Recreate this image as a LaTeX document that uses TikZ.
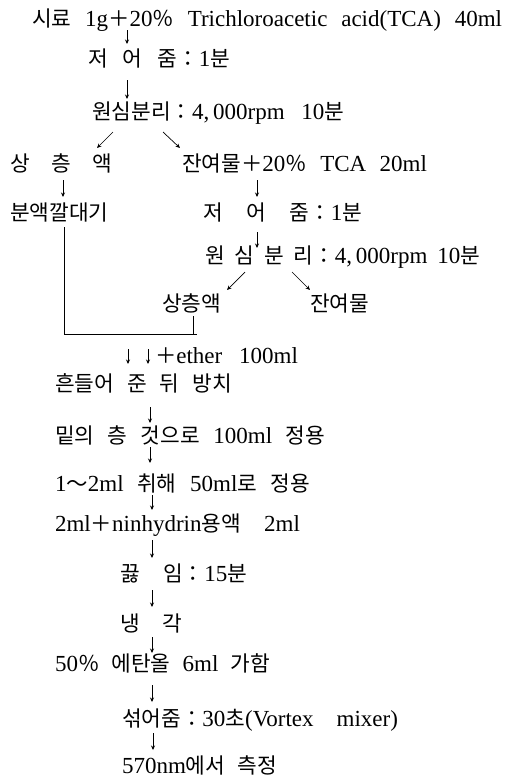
\documentclass[tikz,border=0pt]{standalone}
\usepackage{fontspec}
\setmainfont{Liberation Serif}
\newfontfamily\kr[Scale=0.93]{Noto Sans CJK KR}
\newcommand\K[1]{{\kr #1}}
\usetikzlibrary{arrows.meta}
\tikzset{
  txt/.style={anchor=base west,inner sep=0pt,outer sep=0pt,font=\fontsize{23}{26}\selectfont},
  arr/.style={line width=0.7pt,-{Stealth[length=4.5pt,width=4pt]}},
  ln/.style={line width=0.7pt}
}
\newcommand\W[2]{\makebox[#1pt][s]{#2}}
\begin{document}
\begin{tikzpicture}[x=1pt,y=-1pt]
\useasboundingbox[fill=white] (0,0) rectangle (504,779);
% texts
\node[txt] (t1) at (32,26) {\W{470}{\K{시료} 1g\K{＋}20\K{％} Trichloroacetic acid(TCA) 40ml}};
\node[txt] (t2) at (88,66) {\W{142}{\K{저} \K{어} \K{줌：}1\K{분}}};
\node[txt] (t3) at (92,119) {\W{252}{\K{원심분리：}4,\,000rpm 10\K{분}}};
\node[txt] (t4) at (10,171) {\W{102}{\K{상} \K{층} \K{액}}};
\node[txt] (t5) at (182,171) {\W{245}{\K{잔여물＋}20\K{％} TCA 20ml}};
\node[txt] (t6) at (10,220) {\K{분액깔대기}};
\node[txt] (t7) at (203,220) {\W{159}{\K{저} \K{어} \K{줌：}1\K{분}}};
\node[txt] (t8) at (205,263) {\W{275}{\K{원} \K{심} \K{분} \K{리：}4,\,000rpm 10\K{분}}};
\node[txt] (t9) at (162,311) {\K{상층액}};
\node[txt] (t10) at (310,311) {\K{잔여물}};
\node[txt] (t11) at (155,363) {\W{143}{\K{＋}ether 100ml}};
\node[txt] (t12) at (55,391) {\W{177}{\K{흔들어} \K{준} \K{뒤} \K{방치}}};
\node[txt] (t13) at (55,443) {\W{270}{\K{밑의} \K{층} \K{것으로} 100ml \K{정용}}};
\node[txt] (t14) at (55,491) {\W{255}{1\K{～}2ml \K{취해} 50ml\K{로} \K{정용}}};
\node[txt] (t15) at (55,531) {\W{245}{2ml\K{＋}ninhydrin\K{용액} 2ml}};
\node[txt] (t16) at (120,581) {\W{127}{\K{끓} \K{임：}15\K{분}}};
\node[txt] (t17) at (120,631) {\W{62}{\K{냉} \K{각}}};
\node[txt] (t18) at (55,671) {\W{215}{50\K{％} \K{에탄올} 6ml \K{가함}}};
\node[txt] (t19) at (122,726) {\W{276}{\K{섞어줌：}30\K{초}(Vortex mixer)}};
\node[txt] (t20) at (122,773) {\W{155}{570nm\K{에서} \K{측정}}};
% arrow end points
\coordinate (a1s) at (127,30);   \coordinate (a1e) at (127,44);
\coordinate (a2s) at (127,80);   \coordinate (a2e) at (127,99);
\coordinate (d1s) at (113,132);  \coordinate (d1e) at (97,148);
\coordinate (d2s) at (163,132);  \coordinate (d2e) at (180,148);
\coordinate (a3s) at (63,180);   \coordinate (a3e) at (63,197);
\coordinate (a4s) at (257,180);  \coordinate (a4e) at (257,197);
\coordinate (a5s) at (257,232);  \coordinate (a5e) at (257,248);
\coordinate (d3s) at (245,272);  \coordinate (d3e) at (227,290);
\coordinate (d4s) at (292,272);  \coordinate (d4e) at (310,290);
\coordinate (b1) at (64,227);    \coordinate (b2) at (197,334);
\coordinate (b3) at (193,316);   \coordinate (b4) at (193,334);
\coordinate (e1s) at (128,349);  \coordinate (e1e) at (128,364);
\coordinate (e2s) at (148,349);  \coordinate (e2e) at (148,364);
\coordinate (a6s) at (150,407);  \coordinate (a6e) at (150,423);
\coordinate (a7s) at (150,447);  \coordinate (a7e) at (150,463);
\coordinate (a8s) at (152,495);  \coordinate (a8e) at (152,510);
\coordinate (a9s) at (152,540);  \coordinate (a9e) at (152,558);
\coordinate (a10s) at (152,590); \coordinate (a10e) at (152,607);
\coordinate (a11s) at (152,637); \coordinate (a11e) at (152,653);
\coordinate (a12s) at (152,685); \coordinate (a12e) at (152,702);
\coordinate (a13s) at (153,733); \coordinate (a13e) at (153,750);
% connectors
\foreach \n in {a1,a2,d1,d2,a3,a4,a5,d3,d4,e1,e2,a6,a7,a8,a9,a10,a11,a12,a13}
  \draw[arr] (\n s) -- (\n e);
\draw[ln] (b1) |- (b2);
\draw[ln] (b3) -- (b4);
\end{tikzpicture}
\end{document}
